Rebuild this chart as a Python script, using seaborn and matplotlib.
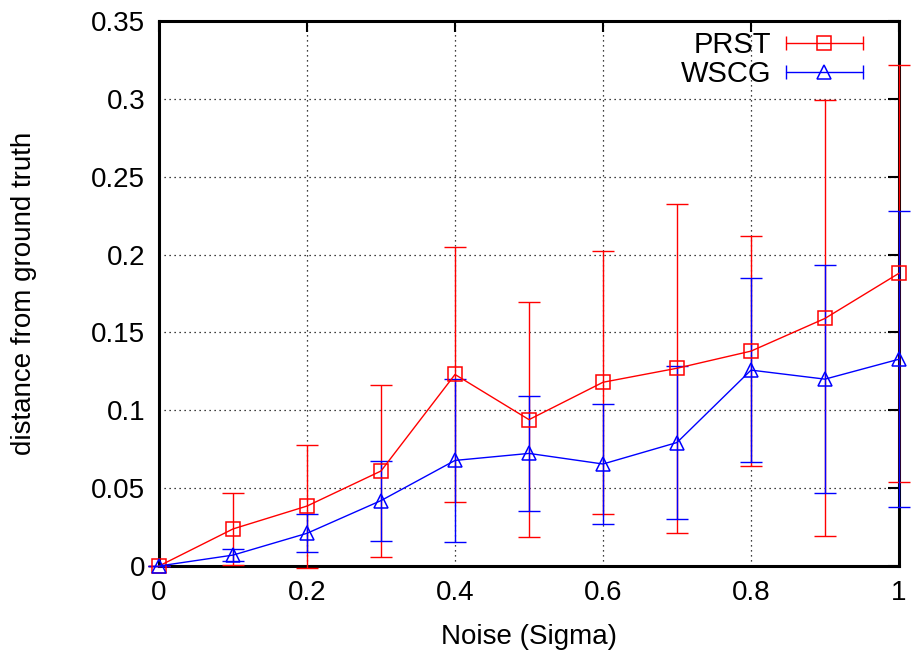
import matplotlib
matplotlib.use("Agg")
import matplotlib.pyplot as plt
from matplotlib.lines import Line2D
from matplotlib.legend_handler import HandlerBase
import numpy as np
import pandas as pd
import seaborn as sns

# Noise levels
noise = [0.0, 0.1, 0.2, 0.3, 0.4, 0.5, 0.6, 0.7, 0.8, 0.9, 1.0]

# PRST: mean distance and error half-width
prst_mean = [0.0, 0.0238, 0.0385, 0.061, 0.123, 0.094, 0.118, 0.127, 0.138, 0.159, 0.188]
prst_err = [0.0, 0.0232, 0.0395, 0.055, 0.082, 0.0755, 0.0845, 0.1055, 0.0738, 0.140, 0.134]

# WSCG: mean distance and error half-width
wscg_mean = [0.0, 0.007, 0.021, 0.042, 0.0678, 0.0723, 0.0655, 0.0793, 0.1258, 0.120, 0.1328]
wscg_err = [0.0, 0.0038, 0.0122, 0.0257, 0.0523, 0.0367, 0.0387, 0.0492, 0.059, 0.0733, 0.095]

series_names = ["PRST", "WSCG"]
colors = {"PRST": "#ff0000", "WSCG": "#0000ff"}
markers = {"PRST": "s", "WSCG": "^"}

df = pd.DataFrame({
    "noise": noise * 2,
    "dist": prst_mean + wscg_mean,
    "err": prst_err + wscg_err,
    "method": ["PRST"] * len(noise) + ["WSCG"] * len(noise),
})

sns.set_theme(style="white")
plt.rcParams["font.family"] = ["Liberation Sans Narrow", "Liberation Sans", "DejaVu Sans"]
plt.rcParams["font.size"] = 20
plt.rcParams["text.color"] = "black"
plt.rcParams["axes.labelcolor"] = "black"
plt.rcParams["xtick.color"] = "black"
plt.rcParams["ytick.color"] = "black"

fig = plt.figure(figsize=(9.11, 6.59), dpi=100)
ax = fig.add_axes([159 / 911, 1 - 566 / 659, (899 - 159) / 911, (566 - 21) / 659])

for z, name in enumerate(series_names):
    sub = df[df["method"] == name]
    ax.errorbar(sub["noise"], sub["dist"], yerr=sub["err"], fmt="none",
                ecolor=colors[name], elinewidth=1.0, capsize=8, capthick=1.0,
                clip_on=False, zorder=3 + z)

sns.lineplot(data=df, x="noise", y="dist", hue="method", style="method",
             palette=colors, markers=markers, dashes=False, ax=ax,
             linewidth=1.0, markersize=9.5, markerfacecolor="none",
             markeredgewidth=1.1, legend=False, clip_on=False, zorder=5)
for ln, name in zip(ax.lines[-2:], series_names):
    ln.set_markeredgecolor(colors[name])
    ln.set_markerfacecolor("none")

ax.set_xlim(0, 1)
ax.set_ylim(0, 0.35)
ax.set_xticks([0, 0.2, 0.4, 0.6, 0.8, 1.0])
ax.set_xticklabels(["0", "0.2", "0.4", "0.6", "0.8", "1"])
ax.set_yticks([0, 0.05, 0.1, 0.15, 0.2, 0.25, 0.3, 0.35])
ax.set_yticklabels(["0", "0.05", "0.1", "0.15", "0.2", "0.25", "0.3", "0.35"])
ax.grid(True, linestyle=(0, (1, 3)), color="black", linewidth=0.9)
ax.tick_params(direction="in", length=8, width=1.5, top=True, right=True,
               labelsize=20, colors="black", pad=10)
for sp in ax.spines.values():
    sp.set_visible(True)
    sp.set_color("black")
    sp.set_linewidth(2.2)
ax.set_xlabel("Noise (Sigma)", fontsize=20, labelpad=13, color="black")
ax.set_ylabel("distance from ground truth", fontsize=20, labelpad=39, color="black")


class ErrorbarKey(HandlerBase):
    def __init__(self, marker, color):
        super().__init__()
        self.marker = marker
        self.color = color

    def create_artists(self, legend, orig_handle, xdescent, ydescent,
                       width, height, fontsize, trans):
        y = height / 2 - ydescent
        x0, x1 = -xdescent, width - xdescent
        line = Line2D([x0, x1], [y, y], color=self.color, lw=1.0)
        caps = Line2D([x0, x1], [y, y], ls="none", marker="|", ms=10,
                      mew=1.0, color=self.color)
        mk = Line2D([(x0 + x1) / 2], [y], ls="none", marker=self.marker, ms=9.5,
                    mfc="none", mec=self.color, mew=1.1)
        for a in (line, caps, mk):
            a.set_transform(trans)
        return [line, caps, mk]


handles = [Line2D([], [], color=colors[n]) for n in series_names]
hmap = {h: ErrorbarKey(markers[n], colors[n]) for h, n in zip(handles, series_names)}
leg = ax.legend(handles, series_names, handler_map=hmap, loc="upper right",
                bbox_to_anchor=(863 / 911, 1 - 31 / 659), bbox_transform=fig.transFigure,
                frameon=False, markerfirst=False, borderpad=0, borderaxespad=0,
                handlelength=2.65, handletextpad=0.5, labelspacing=0.05, fontsize=21)
for t in leg.get_texts():
    t.set_color("black")

fig.savefig("out.png", dpi=100)
